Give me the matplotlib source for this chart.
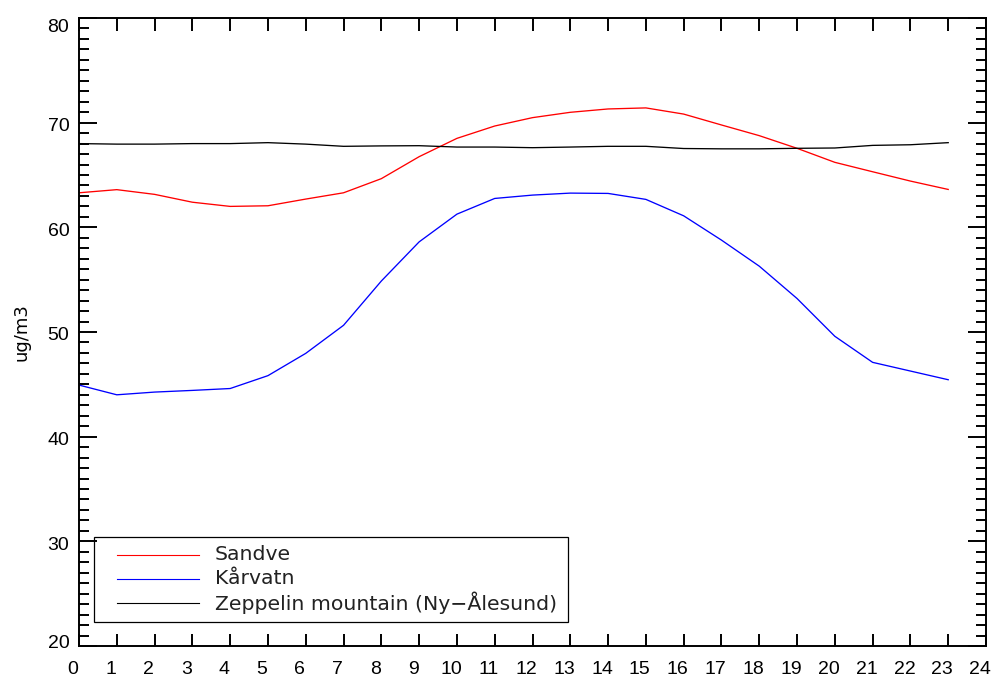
import matplotlib
matplotlib.use("Agg")
import matplotlib.pyplot as plt
import matplotlib.transforms as mtransforms
from matplotlib.patches import Rectangle

plt.rcParams['font.family'] = ['Liberation Sans', 'DejaVu Sans']

# hourly means (hour 0..23)
hours = list(range(24))
sandve = [63.3, 63.6, 63.15, 62.4, 62.0, 62.06, 62.7, 63.3, 64.65, 66.75, 68.5, 69.68,
          70.48, 70.99, 71.31, 71.41, 70.82, 69.78, 68.76, 67.55, 66.21, 65.31, 64.42, 63.62]
karvatn = [44.93, 44.0, 44.26, 44.42, 44.6, 45.83, 47.96, 50.64, 54.87, 58.61, 61.26, 62.76,
           63.08, 63.27, 63.24, 62.67, 61.1, 58.78, 56.29, 53.2, 49.59, 47.1, 46.27, 45.44]
zeppelin = [68.0, 67.95, 67.95, 68.0, 68.0, 68.09, 67.95, 67.74, 67.78, 67.8, 67.67, 67.67,
            67.61, 67.67, 67.74, 67.74, 67.53, 67.5, 67.5, 67.55, 67.58, 67.83, 67.89, 68.09]

labels = ['Sandve', 'Kårvatn', 'Zeppelin mountain (Ny\u2212Ålesund)']
colors = ['#ff0000', '#0000ff', '#000000']
series = [sandve, karvatn, zeppelin]

W, H = 999, 679
fig = plt.figure(figsize=(W / 100, H / 100), dpi=100)
L, R, T, B = 79, 986, 18, 646
ax = fig.add_axes([L / W, 1 - B / H, (R - L) / W, (B - T) / H])

for vals, c in zip(series, colors):
    ax.plot(hours, vals, color=c, lw=0.95)

ax.set_xlim(0, 24)
ax.set_ylim(20, 80)
ax.set_xticks(range(0, 25))
ax.set_yticks(range(20, 81, 10))
ax.set_yticks(range(20, 81, 1), minor=True)

for s in ax.spines.values():
    s.set_linewidth(1.4)

ax.tick_params(axis='x', which='major', direction='in', length=9, width=1.4,
               top=True, labelsize=14, pad=11)
ax.tick_params(axis='y', which='major', direction='in', length=13, width=1.4,
               right=True, labelsize=14, pad=7)
ax.tick_params(axis='y', which='minor', direction='in', length=7.5, width=1.4,
               right=True)

# IDL-style label placement: x labels sit a bit left, end y labels pulled inward
for lab in ax.get_xticklabels():
    lab.set_transform(lab.get_transform() +
                      mtransforms.ScaledTranslation(-6 / 100, 0, fig.dpi_scale_trans))
for lab, tv in zip(ax.get_yticklabels(), range(20, 81, 10)):
    dy = -2
    if tv == 80:
        dy = -8
    elif tv == 20:
        dy = 5
    lab.set_transform(lab.get_transform() +
                      mtransforms.ScaledTranslation(0, dy / 100, fig.dpi_scale_trans))

ax.set_ylabel('ug/m3', fontsize=13, family='DejaVu Sans')
ax.yaxis.set_label_coords(-(L - 31) / (R - L), 0.5)


# legend drawn by hand in pixel positions
def fx(px):
    return (px - L) / (R - L)


def fy(py):
    return (B - py) / (B - T)


ax.add_patch(Rectangle((fx(94), fy(622)), fx(568) - fx(94), fy(537) - fy(622),
                       transform=ax.transAxes, fill=False, ec='black', lw=0.9,
                       zorder=5))
for i, (lab, c) in enumerate(zip(labels, colors)):
    yy = fy(555 + 24 * i)
    ax.plot([fx(117), fx(199)], [yy, yy], transform=ax.transAxes, color=c, lw=0.8)
    ax.text(fx(215), yy, lab, transform=ax.transAxes, fontsize=14.7,
            family='DejaVu Sans', va='center', ha='left', color='#222222')

fig.savefig('out.png', dpi=100)
